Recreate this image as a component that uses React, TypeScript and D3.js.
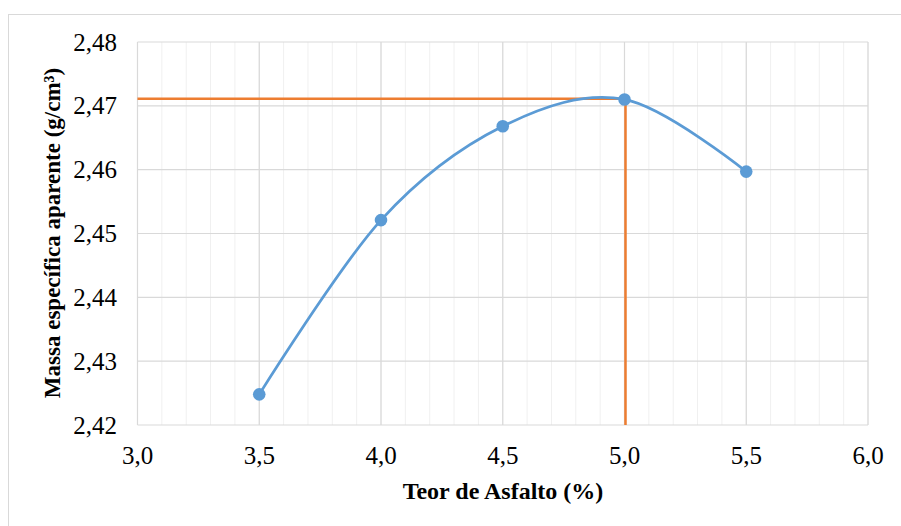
import React from "react";
import * as d3 from "d3";

const xValues = [3.5, 4.0, 4.5, 5.0, 5.5];
const yValues = [2.4248, 2.4521, 2.4668, 2.4710, 2.4597];
const optX = 5.0;
const optY = 2.4711;
const xTicks = [3.0, 3.5, 4.0, 4.5, 5.0, 5.5, 6.0];
const yTicks = [2.42, 2.43, 2.44, 2.45, 2.46, 2.47, 2.48];
const xMinor = d3.range(30, 61).map((v) => v / 10);
const xTitle = "Teor de Asfalto (%)";
const yTitle = "Massa específica aparente (g/cm³)";

const W = 901;
const H = 526;
const left = 137.5;
const right = 868;
const top = 42;
const bottom = 425;

export default function App() {
  const x = d3.scaleLinear().domain([3, 6]).range([left, right]);
  const y = d3.scaleLinear().domain([2.42, 2.48]).range([bottom, top]);
  const fmt = (v: number, d: number) => v.toFixed(d).replace(".", ",");
  const line = d3
    .line<number>()
    .x((_, i) => x(xValues[i]))
    .y((d) => y(d))
    .curve(d3.curveCardinal.tension(0));
  const tf: React.CSSProperties = { fontFamily: "Liberation Serif, DejaVu Serif, serif" };
  return (
    <svg
      width={W}
      height={H}
      style={{ position: "absolute", left: 0, top: 0, background: "#fff" }}
    >
      <rect x={8.5} y={14.5} width={950} height={600} fill="#fff" stroke="#d9d9d9" strokeWidth={1} />
      {xMinor.map((v) => (
        <line key={"m" + v} x1={x(v)} x2={x(v)} y1={top} y2={bottom} stroke="#f0f0f0" strokeWidth={1} />
      ))}
      {xTicks.map((v) => (
        <line key={"xv" + v} x1={x(v)} x2={x(v)} y1={top} y2={bottom} stroke="#d9d9d9" strokeWidth={1.2} />
      ))}
      {yTicks.map((v) => (
        <line key={"yh" + v} x1={left} x2={right} y1={y(v)} y2={y(v)} stroke="#d9d9d9" strokeWidth={1.2} />
      ))}
      <line x1={x(3)} x2={x(optX)} y1={y(optY)} y2={y(optY)} stroke="#ed7d31" strokeWidth={2.5} />
      <line x1={x(optX) + 1} x2={x(optX) + 1} y1={y(optY)} y2={y(2.42)} stroke="#ed7d31" strokeWidth={2.5} />
      <path d={line(yValues) || ""} fill="none" stroke="#5b9bd5" strokeWidth={2.75} />
      {yValues.map((v, i) => (
        <circle key={"p" + i} cx={x(xValues[i])} cy={y(v)} r={6.3} fill="#5b9bd5" />
      ))}
      {yTicks.map((v) => (
        <text key={"yt" + v} x={117} y={y(v) + 8.5} textAnchor="end" fontSize={25} fill="#000" style={tf}>
          {fmt(v, 2)}
        </text>
      ))}
      {xTicks.map((v) => (
        <text key={"xt" + v} x={x(v)} y={464} textAnchor="middle" fontSize={25} fill="#000" style={tf}>
          {fmt(v, 1)}
        </text>
      ))}
      <text x={503} y={499} textAnchor="middle" fontSize={24} fontWeight="bold" fill="#000" style={tf}>
        {xTitle}
      </text>
      <text
        transform={`translate(60,233) rotate(-90)`}
        textAnchor="middle"
        fontSize={23}
        fontWeight="bold"
        fill="#000"
        style={tf}
      >
        {yTitle}
      </text>
    </svg>
  );
}
